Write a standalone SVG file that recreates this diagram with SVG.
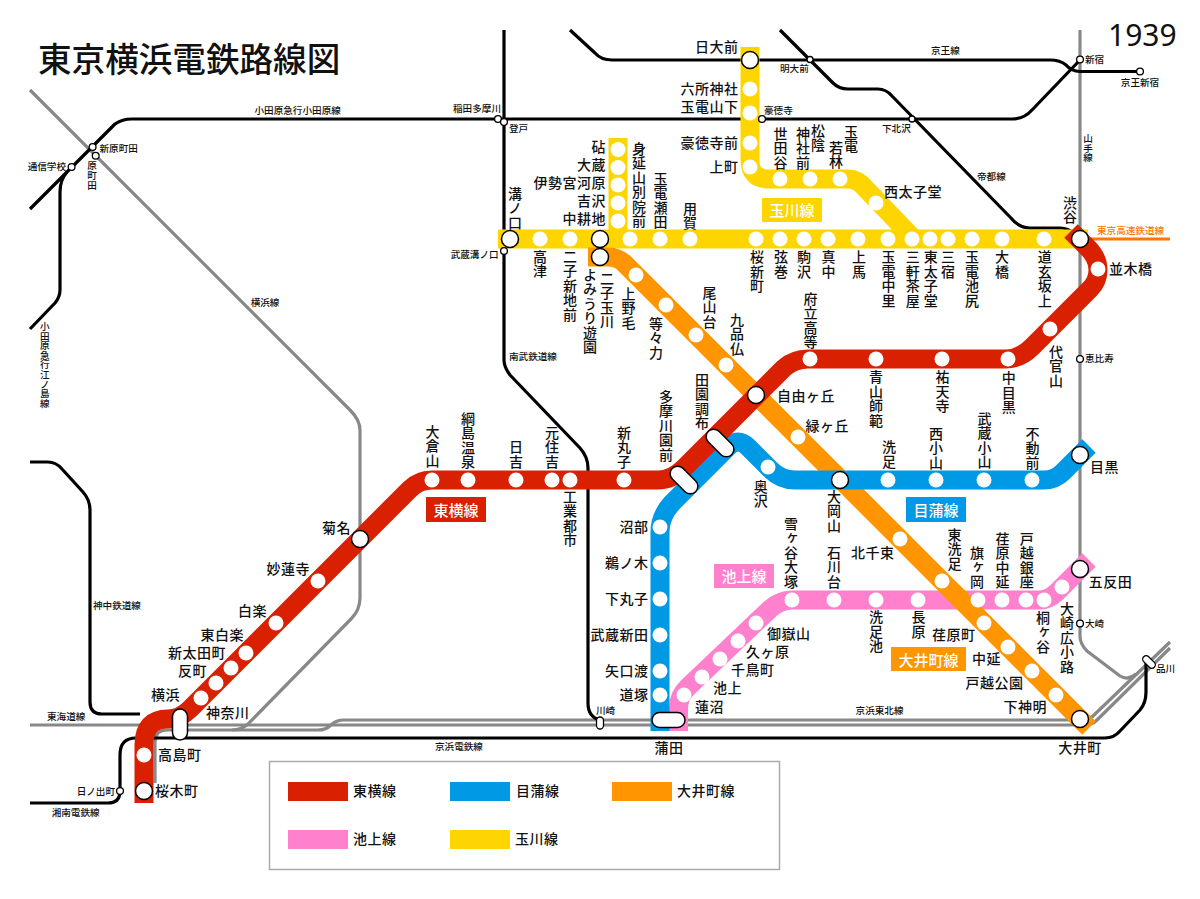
<svg xmlns="http://www.w3.org/2000/svg" width="1200" height="899" viewBox="0 0 1200 899">
<style>
text{font-family:"Noto Sans CJK JP","Noto Sans",sans-serif;fill:#111;dominant-baseline:central}
text:not(.v){transform:translateY(-1px)}
.l{font-size:14px;letter-spacing:.5px;font-weight:500}
.t{font-size:9.6px;font-weight:500}
.v{writing-mode:vertical-rl;dominant-baseline:auto}
.e{text-anchor:end}
.m{text-anchor:middle}
.w{font-size:15px;fill:#fff;text-anchor:middle;font-weight:500}
.d{fill:#fff}
.b{fill:#fff;stroke:#000;stroke-width:1.5}
.s{fill:#fff;stroke:#000;stroke-width:1.3}
.r{fill:none;stroke-linejoin:round}
.k{stroke:#000;stroke-width:3.2}
.g{stroke:#888;stroke-width:3.2}
.x{fill:none;stroke-width:19}
</style>
<rect width="1200" height="899" fill="#fff"/>
<g id="connectors">
<g id="rail-lines">
<path class="r g" d="M30,90 L350,410 Q360,420 360,430 V598 Q360,610 351,619 L248,724 Q241,730 232,730"/>
<path class="r g" d="M1080,30 V636 Q1080,644 1087,651 L1120,676 Q1128,681 1136,674"/>
<path class="r g" d="M30,725 H1085 Q1092,725 1097,720 L1170,648"/>
<path class="r g" d="M155,783 V742 Q155,730 167,730 H318 Q326,730 331,725 Q336,720 344,720 H1085 Q1090,719 1093,716 L1170,642"/>
<path class="r k" d="M570,30 L595,53 Q601,60 612,60 H1050 Q1060,60 1066,65 Q1071,71 1080,71.5 H1140"/>
<path class="r k" d="M780,30 L833,83 Q839,89 848,89 H878 Q886,89 892,96 L1011,218 Q1019,228 1030,228 H1060 Q1068,228 1075,234"/>
<path class="r k" d="M30,209 L115,124 Q122,119 132,119 H1012 Q1024,119 1032,110 L1080,60"/>
<path class="r k" d="M67,172 Q60,180 60,192 V290 Q60,297 55,303 L30,329"/>
<path class="r k" d="M504,30 V360 Q504,367 510,375 L580,448 Q588,457 588,468 V703 Q588,717 600,720"/>
<path class="r k" d="M30,462 H48 Q56,462 62,469 L83,492 Q90,500 90,510 V702 Q90,714 102,714 H140"/>
<path class="r k" d="M30,803 H108 Q120,803 120,791 V755 Q120,738 136,738 H1105 Q1114,738 1120,731 L1140,710 Q1146,703 1146,692 V663"/>
<path fill="none" stroke="#f70" stroke-width="3" d="M1088,239 H1170"/>
</g>
<g id="line-tamagawa" stroke="#FFD500">
<path class="x" d="M498,239 H1088"/>
<path class="x" d="M618,138 V239"/>
<path class="x" d="M750,47 V160 Q750,179 769,179 H848 Q858,179 866,189 L914,239"/>
</g>
<g id="line-ikegami" stroke="#FF80CC">
<path class="x" d="M678.5,731 V708 Q678.5,696 688,687 L770,609 Q780,600 792,600 H1040 Q1048,600 1056,593 L1089,560"/>
</g>
<g id="line-oimachi" stroke="#FF9500">
<path class="x" d="M588,257 H608 Q618,257 625,264 L1089,728"/>
</g>
<g id="line-mekama" stroke="#0099E6">
<path class="x" d="M660,731 V532 Q660,516 672,503 L728,447 Q738,437 748,447 L771,470 Q781,480 795,480 H1044 Q1055,480 1063,472 L1089,446"/>
</g>
<g id="line-toyoko" stroke="#D92000">
<path class="x" d="M1071,231 L1088,248 Q1098,258 1098,270 Q1098,281 1090,289 L1032,347 Q1020,359 1006,359 H808 Q794,359 784,368 L684,468 Q672,480 658,480 H432 Q419,480 410,489 L190,709 Q180,719 168,719 Q144,719 144,745 V803"/>
</g>
</g>

<g id="title"><text x="38" y="58" font-size="33.6" font-weight="500">東京横浜電鉄路線図</text></g>
<g id="year"><text x="1108" y="35" font-size="30" style="font-family:'Noto Sans',sans-serif">1939</text></g>

<g id="line-labels">
<g id="label-toyoko"><rect x="426" y="497" width="60" height="25" fill="#D92000"/><text class="w" x="456" y="510">東横線</text></g>
<g id="label-mekama"><rect x="906" y="497" width="60" height="25" fill="#0099E6"/><text class="w" x="936" y="510">目蒲線</text></g>
<g id="label-ikegami"><rect x="714" y="564" width="60" height="24" fill="#FF80CC"/><text class="w" x="744" y="576">池上線</text></g>
<g id="label-oimachi"><rect x="891" y="647" width="75" height="24" fill="#FF9500"/><text class="w" x="928.5" y="660">大井町線</text></g>
<g id="label-tamagawa"><rect x="762" y="198" width="60" height="24" fill="#FFD500"/><text class="w" x="792" y="210.5">玉川線</text></g>
</g>

<g id="rail-stations">
<g id="n-shinharamachida"><circle class="s" cx="92.6" cy="147" r="3.4"/><text class="t" x="99.5" y="149">新原町田</text></g>
<g id="n-haramachida"><circle class="s" cx="95.7" cy="155.7" r="3.4"/><text class="t v" x="92" y="161">原町田</text></g>
<g id="n-tsushin"><circle class="s" cx="71.6" cy="167" r="3.4"/><text class="t e" x="66" y="167">通信学校</text></g>
<g id="n-inadatamagawa"><circle class="s" cx="498" cy="119" r="3.4"/><text class="t e" x="501" y="109">稲田多摩川</text></g>
<g id="n-noborito"><circle class="s" cx="504" cy="122" r="3.4"/><text class="t" x="509" y="129">登戸</text></g>
<g id="n-musashimizonokuchi"><circle class="s" cx="504" cy="251" r="3.4"/><text class="t e" x="498.6" y="255">武蔵溝ノ口</text></g>
<g id="n-meidaimae"><circle class="s" cx="810" cy="59.5" r="3"/><text class="t" x="780" y="69">明大前</text></g>
<g id="n-gotokuji"><circle class="s" cx="762" cy="119" r="3.4"/><text class="t" x="764" y="111">豪徳寺</text></g>
<g id="n-shimokitazawa"><circle class="s" cx="912" cy="119" r="3"/><text class="t" x="882" y="129">下北沢</text></g>
<g id="n-shinjuku"><circle class="s" cx="1080" cy="59.5" r="3.4"/><text class="t" x="1085" y="60">新宿</text></g>
<g id="n-keioshinjuku"><circle class="s" cx="1140" cy="71.5" r="3.4"/><text class="t m" x="1140" y="83">京王新宿</text></g>
<g id="n-ebisu"><circle class="s" cx="1080" cy="359" r="3.4"/><text class="t" x="1085" y="359">恵比寿</text></g>
<g id="n-osaki"><circle class="s" cx="1080" cy="623.5" r="3.4"/><text class="t" x="1085" y="624">大崎</text></g>
<g id="n-hinodecho"><circle class="s" cx="120" cy="791" r="3.4"/><text class="t e" x="115" y="792">日ノ出町</text></g>
<g id="n-kawasaki"><rect x="596.5" y="717" width="7" height="12" rx="3.5" class="s"/><text class="t" x="596" y="711">川崎</text></g>
<g id="n-shinagawa"><rect x="-7.5" y="-3.5" width="15" height="7" rx="3.5" class="s" transform="translate(1149,662) rotate(45)"/><text class="t" x="1156" y="669">品川</text></g>
</g>

<g id="rail-labels">
<text class="t" x="254.5" y="111">小田原急行小田原線</text>
<text class="t v" x="44.8" y="321.5">小田原急行江ノ島線</text>
<text class="t" x="250.7" y="303">横浜線</text>
<text class="t" x="509" y="357">南武鉄道線</text>
<text class="t" x="931" y="51">京王線</text>
<text class="t v" x="1088" y="133.5">山手線</text>
<text class="t" x="977" y="177">帝都線</text>
<text class="t" x="1097" y="231" style="fill:#f70">東京高速鉄道線</text>
<text class="t" x="93" y="606">神中鉄道線</text>
<text class="t" x="47" y="717">東海道線</text>
<text class="t" x="435" y="747">京浜電鉄線</text>
<text class="t" x="51.7" y="813">湘南電鉄線</text>
<text class="t" x="855.6" y="711">京浜東北線</text>
</g>

<g id="tamagawa-stations">
<g id="t-mizonokuchi"><circle class="b" cx="510" cy="239" r="8.5"/><text class="l v" x="515" y="186.5">溝ノ口</text></g>
<g id="t-takatsu"><circle class="d" cx="540" cy="239" r="7.5"/><text class="l v" x="540" y="249.5">高津</text></g>
<g id="t-futakoshinchi"><circle class="d" cx="570" cy="239" r="7.5"/><text class="l v" x="570" y="249.5">二子新地前</text></g>
<g id="t-futakotamagawa"><circle class="b" cx="600" cy="239" r="8.5"/><circle class="b" cx="600" cy="257" r="8.5"/><text class="l v" x="607" y="271.5">二子玉川</text><text class="l v" x="590" y="267.5">よみうり遊園</text></g>
<g id="t-kinuta"><circle class="d" cx="618" cy="149.5" r="7.5"/><text class="l e" x="606" y="147">砧</text></g>
<g id="t-okura"><circle class="d" cx="618" cy="167.5" r="7.5"/><text class="l e" x="606" y="165">大蔵</text></g>
<g id="t-isemiyagawara"><circle class="d" cx="618" cy="185" r="7.5"/><text class="l e" x="606" y="183">伊勢宮河原</text></g>
<g id="t-yoshizawa"><circle class="d" cx="618" cy="203" r="7.5"/><text class="l e" x="606" y="201">吉沢</text></g>
<g id="t-nakakochi"><circle class="d" cx="618" cy="221" r="7.5"/><text class="l e" x="606" y="219">中耕地</text></g>
<g id="t-minobu"><circle class="d" cx="630" cy="239" r="7.5"/><text class="l v" x="639" y="141.5">身延山別院前</text></g>
<g id="t-tamadenseta"><circle class="d" cx="660" cy="239" r="7.5"/><text class="l v" x="660.5" y="171.5">玉電瀬田</text></g>
<g id="t-yoga"><circle class="d" cx="690" cy="239" r="7.5"/><text class="l v" x="690" y="201.5">用賀</text></g>
<g id="t-sakurashinmachi"><circle class="d" cx="756" cy="239" r="7.5"/><text class="l v" x="757" y="250">桜新町</text></g>
<g id="t-tsurumaki"><circle class="d" cx="780" cy="239" r="7.5"/><text class="l v" x="781" y="250">弦巻</text></g>
<g id="t-komazawa"><circle class="d" cx="804" cy="239" r="7.5"/><text class="l v" x="804" y="250">駒沢</text></g>
<g id="t-mananaka"><circle class="d" cx="828" cy="239" r="7.5"/><text class="l v" x="828.5" y="250">真中</text></g>
<g id="t-kamiuma"><circle class="d" cx="858" cy="239" r="7.5"/><text class="l v" x="859" y="250">上馬</text></g>
<g id="t-tamadennakasato"><circle class="d" cx="888" cy="239" r="7.5"/><text class="l v" x="888.5" y="250">玉電中里</text></g>
<g id="t-sangenjaya"><circle class="d" cx="912" cy="239" r="7.5"/><text class="l v" x="912.7" y="250">三軒茶屋</text></g>
<g id="t-higashitaishido"><circle class="d" cx="930" cy="239" r="7.5"/><text class="l v" x="930.7" y="250">東太子堂</text></g>
<g id="t-sanjuku"><circle class="d" cx="948" cy="239" r="7.5"/><text class="l v" x="948" y="250">三宿</text></g>
<g id="t-tamadenikejiri"><circle class="d" cx="972" cy="239" r="7.5"/><text class="l v" x="972" y="250">玉電池尻</text></g>
<g id="t-ohashi"><circle class="d" cx="1002" cy="239" r="7.5"/><text class="l v" x="1002" y="250">大橋</text></g>
<g id="t-dogenzakaue"><circle class="d" cx="1044" cy="239" r="7.5"/><text class="l v" x="1044.7" y="250">道玄坂上</text></g>
<g id="t-nichidaimae"><circle class="b" cx="750" cy="60" r="8.5"/><text class="l e" x="738.5" y="47">日大前</text></g>
<g id="t-rokusho"><circle class="d" cx="750" cy="89" r="7.5"/><text class="l e" x="738.5" y="89">六所神社</text></g>
<g id="t-tamadenyamashita"><circle class="d" cx="750" cy="113" r="7.5"/><text class="l e" x="738.5" y="107">玉電山下</text></g>
<g id="t-gotokujimae"><circle class="d" cx="750" cy="143" r="7.5"/><text class="l e" x="738.5" y="143">豪徳寺前</text></g>
<g id="t-kamimachi"><circle class="d" cx="750" cy="167" r="7.5"/><text class="l e" x="738.5" y="167">上町</text></g>
<g id="t-setagaya"><circle class="d" cx="780" cy="179" r="7.5"/><text class="l v" x="780.6" y="126.5">世田谷</text></g>
<g id="t-shoin"><circle class="d" cx="810" cy="179" r="7.5"/><text class="l v" x="818" y="123.5">松陰</text><text class="l v" x="803" y="126.5">神社前</text></g>
<g id="t-wakabayashi"><circle class="d" cx="840" cy="179" r="7.5"/><text class="l v" x="851" y="124.5">玉電</text><text class="l v" x="836" y="140.5">若林</text></g>
<g id="t-nishitaishido"><circle class="d" cx="876" cy="203" r="7.5"/><text class="l" x="884" y="192">西太子堂</text></g>
</g>

<g id="oimachi-stations">
<g id="o-kaminoge"><circle class="d" cx="636" cy="275" r="7.5"/><text class="l v" x="628.5" y="286.5">上野毛</text></g>
<g id="o-todoroki"><circle class="d" cx="666" cy="305" r="7.5"/><text class="l v" x="656" y="316.5">等々力</text></g>
<g id="o-oyamadai"><circle class="d" cx="696" cy="335" r="7.5"/><text class="l v" x="709.5" y="285.5">尾山台</text></g>
<g id="o-kuhonbutsu"><circle class="d" cx="726" cy="365" r="7.5"/><text class="l v" x="737" y="312.5">九品仏</text></g>
<g id="o-midorigaoka"><circle class="d" cx="798" cy="437" r="7.5"/><text class="l" x="805.5" y="425.5">緑ヶ丘</text></g>
<g id="o-kitasenzoku"><circle class="d" cx="900" cy="539" r="7.5"/><text class="l" x="851" y="553">北千束</text></g>
<g id="o-higashisenzoku"><circle class="d" cx="942" cy="581" r="7.5"/><text class="l v" x="954.4" y="527.5">東洗足</text></g>
<g id="o-ebaramachi"><circle class="d" cx="984" cy="623" r="7.5"/><text class="l" x="932" y="635">荏原町</text></g>
<g id="o-nakanobu"><circle class="d" cx="1008" cy="647" r="7.5"/><text class="l" x="972" y="659">中延</text></g>
<g id="o-togoshikoen"><circle class="d" cx="1032" cy="671" r="7.5"/><text class="l" x="965.5" y="683">戸越公園</text></g>
<g id="o-shimoshinmei"><circle class="d" cx="1056" cy="695" r="7.5"/><text class="l e" x="1047" y="707">下神明</text></g>
<g id="o-oimachi"><circle class="b" cx="1080" cy="719" r="8.5"/><text class="l m" x="1080" y="748">大井町</text></g>
</g>

<g id="ikegami-stations">
<g id="i-hasunuma"><circle class="d" cx="684" cy="695" r="7.5"/><text class="l" x="695" y="707">蓮沼</text></g>
<g id="i-ikegami"><circle class="d" cx="702" cy="677" r="7.5"/><text class="l" x="713" y="688">池上</text></g>
<g id="i-chidoricho"><circle class="d" cx="720" cy="659" r="7.5"/><text class="l" x="731" y="670">千鳥町</text></g>
<g id="i-kugahara"><circle class="d" cx="738" cy="641" r="7.5"/><text class="l" x="746" y="652">久ヶ原</text></g>
<g id="i-ontakesan"><circle class="d" cx="756" cy="623" r="7.5"/><text class="l" x="767" y="634">御嶽山</text></g>
<g id="i-yukigaya"><circle class="d" cx="792" cy="600" r="7.5"/><text class="l v" x="791" y="516.5">雪ヶ谷大塚</text></g>
<g id="i-ishikawadai"><circle class="d" cx="834" cy="600" r="7.5"/><text class="l v" x="834" y="545.5">石川台</text></g>
<g id="i-senzokuike"><circle class="d" cx="876" cy="600" r="7.5"/><text class="l v" x="876" y="610">洗足池</text></g>
<g id="i-nagahara"><circle class="d" cx="918" cy="600" r="7.5"/><text class="l v" x="918.4" y="610">長原</text></g>
<g id="i-hatagaoka"><circle class="d" cx="978" cy="600" r="7.5"/><text class="l v" x="977" y="545.5">旗ヶ岡</text></g>
<g id="i-ebaranakanobu"><circle class="d" cx="1002" cy="600" r="7.5"/><text class="l v" x="1002.6" y="531.5">荏原中延</text></g>
<g id="i-togoshiginza"><circle class="d" cx="1026" cy="600" r="7.5"/><text class="l v" x="1026.7" y="531.5">戸越銀座</text></g>
<g id="i-kirigaya"><circle class="d" cx="1044" cy="600" r="7.5"/><text class="l v" x="1043" y="610.5">桐ヶ谷</text></g>
<g id="i-osakihirokoji"><circle class="d" cx="1062" cy="587" r="7.5"/><text class="l v" x="1067" y="601.5">大崎広小路</text></g>
<g id="i-gotanda"><circle class="b" cx="1080" cy="569" r="8.5"/><text class="l" x="1088.7" y="582">五反田</text></g>
</g>

<g id="mekama-stations">
<g id="m-numabe"><circle class="d" cx="660" cy="527" r="7.5"/><text class="l e" x="648.6" y="527">沼部</text></g>
<g id="m-unoki"><circle class="d" cx="660" cy="563" r="7.5"/><text class="l e" x="648.6" y="563">鵜ノ木</text></g>
<g id="m-shimomaruko"><circle class="d" cx="660" cy="599" r="7.5"/><text class="l e" x="648.6" y="599">下丸子</text></g>
<g id="m-musashinitta"><circle class="d" cx="660" cy="635" r="7.5"/><text class="l e" x="648.6" y="635">武蔵新田</text></g>
<g id="m-yaguchinowatashi"><circle class="d" cx="660" cy="671" r="7.5"/><text class="l e" x="648.6" y="671">矢口渡</text></g>
<g id="m-dozuka"><circle class="d" cx="660" cy="695" r="7.5"/><text class="l e" x="648.6" y="695">道塚</text></g>
<g id="m-okusawa"><circle class="d" cx="768" cy="467" r="7.5"/><text class="l v" x="760.7" y="479.5">奥沢</text></g>
<g id="m-ookayama"><circle class="b" cx="840" cy="480" r="8.5"/><text class="l v" x="834" y="489.5">大岡山</text></g>
<g id="m-senzoku"><circle class="d" cx="888" cy="480" r="7.5"/><text class="l v" x="889" y="440">洗足</text></g>
<g id="m-nishikoyama"><circle class="d" cx="936" cy="480" r="7.5"/><text class="l v" x="936" y="426.5">西小山</text></g>
<g id="m-musashikoyama"><circle class="d" cx="984" cy="480" r="7.5"/><text class="l v" x="984.6" y="411.5">武蔵小山</text></g>
<g id="m-fudomae"><circle class="d" cx="1032" cy="480" r="7.5"/><text class="l v" x="1032.4" y="426.5">不動前</text></g>
<g id="m-meguro"><circle class="b" cx="1080" cy="455" r="8.5"/><text class="l" x="1090" y="467">目黒</text></g>
</g>

<g id="toyoko-stations">
<g id="y-sakuragicho"><circle class="b" cx="144" cy="791" r="8.5"/><text class="l" x="155" y="791">桜木町</text></g>
<g id="y-takashimacho"><circle class="d" cx="144" cy="755" r="7.5"/><text class="l" x="158" y="755">高島町</text></g>
<g id="y-yokohama"><rect class="b" x="172.5" y="709" width="15" height="31" rx="7.5"/><text class="l e" x="180" y="695">横浜</text></g>
<g id="y-kanagawa"><circle class="d" cx="201" cy="698" r="7.5"/><text class="l" x="206" y="713">神奈川</text></g>
<g id="y-tammachi"><circle class="d" cx="216" cy="683" r="7.5"/><text class="l e" x="207" y="671">反町</text></g>
<g id="y-shinota"><circle class="d" cx="231" cy="668" r="7.5"/><text class="l e" x="226" y="653">新太田町</text></g>
<g id="y-higashihakuraku"><circle class="d" cx="246" cy="653" r="7.5"/><text class="l e" x="244" y="635">東白楽</text></g>
<g id="y-hakuraku"><circle class="d" cx="276" cy="623" r="7.5"/><text class="l e" x="267" y="611">白楽</text></g>
<g id="y-myorenji"><circle class="d" cx="318" cy="581" r="7.5"/><text class="l e" x="310" y="569">妙蓮寺</text></g>
<g id="y-kikuna"><circle class="b" cx="360" cy="539" r="8.5"/><text class="l e" x="351" y="528">菊名</text></g>
<g id="y-okurayama"><circle class="d" cx="432" cy="480" r="7.5"/><text class="l v" x="432.5" y="424.5">大倉山</text></g>
<g id="y-tsunashima"><circle class="d" cx="468" cy="480" r="7.5"/><text class="l v" x="468" y="411.5">綱島温泉</text></g>
<g id="y-hiyoshi"><circle class="d" cx="516" cy="480" r="7.5"/><text class="l v" x="516" y="440">日吉</text></g>
<g id="y-motosumiyoshi"><circle class="d" cx="552" cy="480" r="7.5"/><text class="l v" x="552" y="425.5">元住吉</text></g>
<g id="y-kogyotoshi"><circle class="d" cx="570" cy="480" r="7.5"/><text class="l v" x="570" y="489.5">工業都市</text></g>
<g id="y-shinmaruko"><circle class="d" cx="624" cy="480" r="7.5"/><text class="l v" x="624" y="425.5">新丸子</text></g>
<g id="y-tamagawaen"><rect class="b" x="-16.5" y="-7.5" width="33" height="15" rx="7.5" transform="translate(684,480) rotate(45)"/><text class="l v" x="666" y="389.5">多摩川園前</text></g>
<g id="y-denenchofu"><rect class="b" x="-16.5" y="-7.5" width="33" height="15" rx="7.5" transform="translate(720,443) rotate(45)"/><text class="l v" x="702" y="372.5">田園調布</text></g>
<g id="y-jiyugaoka"><circle class="b" cx="756" cy="395" r="8.5"/><text class="l" x="777" y="395.5">自由ヶ丘</text></g>
<g id="y-furitsukoto"><circle class="d" cx="810" cy="359" r="7.5"/><text class="l v" x="810.5" y="291.5">府立高等</text></g>
<g id="y-aoyamashihan"><circle class="d" cx="876" cy="359" r="7.5"/><text class="l v" x="876" y="370">青山師範</text></g>
<g id="y-yutenji"><circle class="d" cx="942" cy="359" r="7.5"/><text class="l v" x="942.5" y="370">祐天寺</text></g>
<g id="y-nakameguro"><circle class="d" cx="1008" cy="359" r="7.5"/><text class="l v" x="1008.7" y="371">中目黒</text></g>
<g id="y-daikanyama"><circle class="d" cx="1050" cy="329" r="7.5"/><text class="l v" x="1056" y="344.5">代官山</text></g>
<g id="y-namikibashi"><circle class="d" cx="1098" cy="269" r="7.5"/><text class="l" x="1109" y="269">並木橋</text></g>
<g id="y-shibuya"><circle class="b" cx="1080" cy="239" r="8.5"/><text class="l v" x="1070" y="195.5">渋谷</text></g>
<g id="y-kamata"><rect class="b" x="652" y="712.5" width="33" height="15" rx="7.5"/><text class="l m" x="669" y="748">蒲田</text></g>
</g>

<g id="legend">
<rect x="269.5" y="761.5" width="510" height="108" fill="#fff" stroke="#aaa" stroke-width="1.5"/>
<g id="legend-toyoko"><rect x="288" y="782" width="60" height="19" fill="#D92000"/><text class="l" x="353" y="791">東横線</text></g>
<g id="legend-mekama"><rect x="450" y="782" width="60" height="19" fill="#0099E6"/><text class="l" x="516" y="791">目蒲線</text></g>
<g id="legend-oimachi"><rect x="612" y="782" width="60" height="19" fill="#FF9500"/><text class="l" x="677" y="791">大井町線</text></g>
<g id="legend-ikegami"><rect x="288" y="830" width="60" height="19" fill="#FF80CC"/><text class="l" x="353" y="839">池上線</text></g>
<g id="legend-tamagawa"><rect x="450" y="830" width="60" height="19" fill="#FFD500"/><text class="l" x="515" y="839">玉川線</text></g>
</g>
</svg>
